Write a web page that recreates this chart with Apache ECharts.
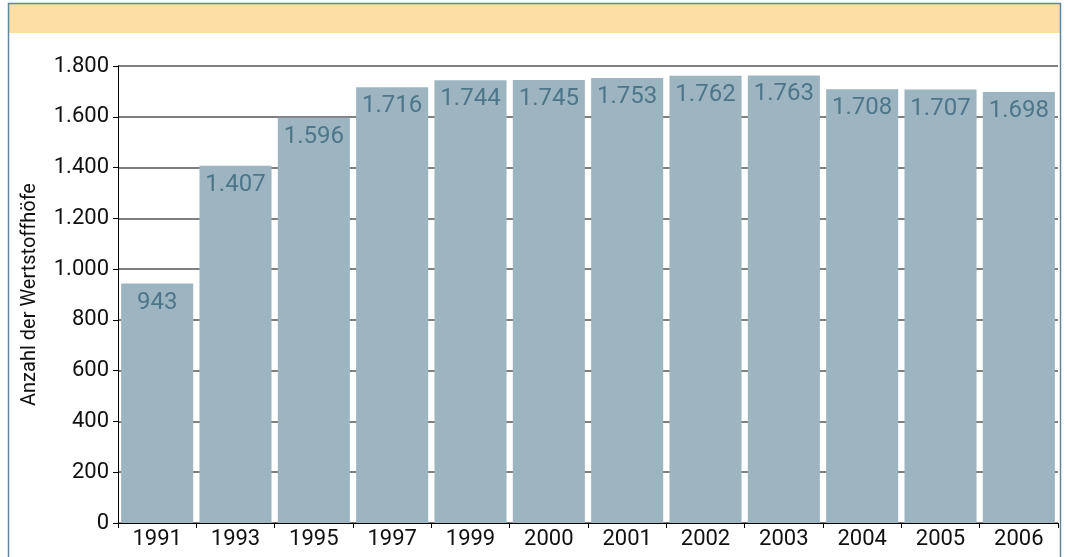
<!DOCTYPE html>
<html>
	<head>
		<meta charset="utf-8">
		<title></title>
		<style type="text/css">
			body{margin:0;background:#fff;}
			#main{
				width: 1068px;
				height: 557px;
			}
		</style>
	</head>
	<body>
		<div id="main"></div>
	</body>
<script src="https://cdn.jsdelivr.net/npm/echarts@6/dist/echarts.min.js" type="text/javascript" charset="utf-8"></script>
<script type="text/javascript">
	var years = ['1991', '1993', '1995', '1997', '1999', '2000', '2001', '2002', '2003', '2004', '2005', '2006'];
	var counts = [943, 1407, 1596, 1716, 1744, 1745, 1753, 1762, 1763, 1708, 1707, 1698];
	var yTicks = [0, 200, 400, 600, 800, 1000, 1200, 1400, 1600, 1800];

	// 1234 -> "1.234"
	function fmt(v){
		return String(v).replace(/\B(?=(\d{3})+(?!\d))/g, '.');
	}

	var chartDom = document.getElementById('main');
	var myChart = echarts.init(chartDom);
	var option = {
		animation: false,
		textStyle: {fontFamily: 'Roboto'},
		graphic: [
			{type: 'rect', shape: {x: 8.5, y: 3.5, width: 1052, height: 560}, style: {fill: 'none', stroke: '#5f879b', lineWidth: 1.5}, z: 10},
			{type: 'rect', shape: {x: 9, y: 4, width: 1051, height: 29}, style: {fill: '#fddfa6'}}
		],
		grid: {left: 118, right: 10, top: 66, bottom: 34},
		xAxis: {
			type: 'category',
			data: years,
			axisLine: {lineStyle: {color: '#000', width: 1}},
			axisTick: {show: true, length: 5, lineStyle: {color: '#000'}},
			axisLabel: {color: '#111', fontSize: 22, margin: 5}
		},
		yAxis: {
			type: 'value',
			min: yTicks[0],
			max: yTicks[yTicks.length - 1],
			interval: 200,
			name: 'Anzahl der Wertstoffhöfe',
			nameLocation: 'middle',
			nameGap: 78,
			nameTextStyle: {color: '#111', fontSize: 20},
			axisLine: {show: true, lineStyle: {color: '#000', width: 1}},
			axisTick: {show: true, length: 5, lineStyle: {color: '#000'}},
			axisLabel: {color: '#111', fontSize: 22, margin: 9, formatter: fmt},
			splitLine: {lineStyle: {color: '#555', width: 1.5}}
		},
		series: [{
			type: 'bar',
			data: counts,
			barCategoryGap: '8%',
			itemStyle: {color: '#9db4c1'},
			label: {
				show: true,
				position: 'insideTop',
				distance: 7,
				color: '#4e7689',
				fontSize: 24,
				formatter: function(p){ return fmt(p.value); }
			}
		}]
	};
	myChart.setOption(option);
</script>
</html>
